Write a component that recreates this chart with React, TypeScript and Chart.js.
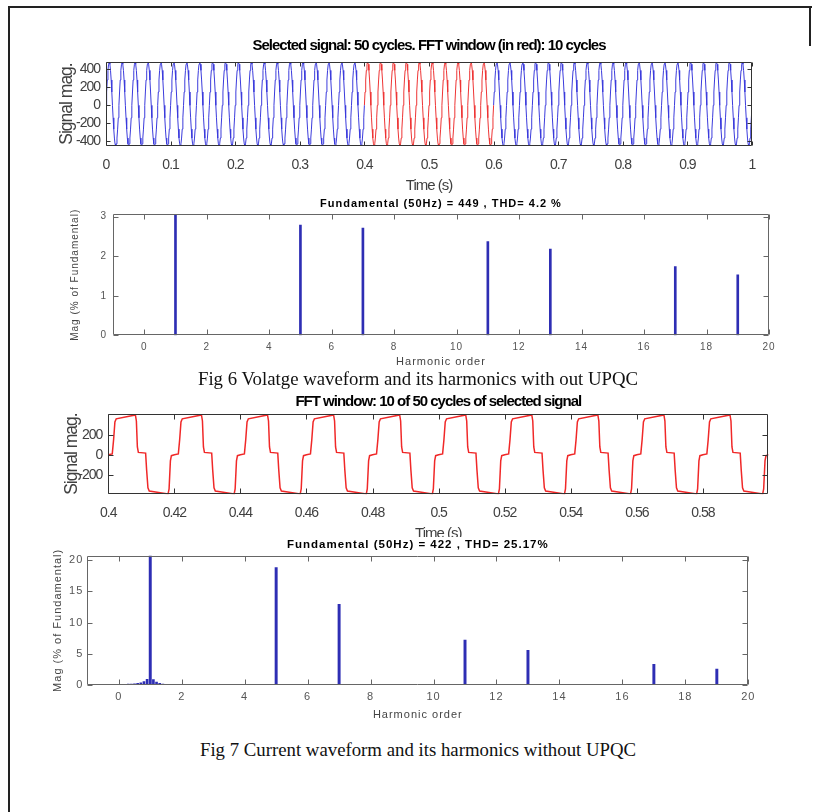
import React, { useEffect, useRef } from "react";
import { Chart, registerables } from "chart.js";
Chart.register(...registerables);

// ---------------- Fig 6 : voltage (50 cycles, FFT window 0.4 – 0.6 s) ----------------
const voltageFundamentalHz = 50;
const voltageSignalCycles = 50;
const voltageCycleSamples = [0, 148, 281, 387, 455, 478, 455, 387, 281, 148, 0, -138, -263, -362, -426, -448, -426, -362, -263, -138];
const fftWindowStart = 0.4;
const fftWindowEnd = 0.6;
const voltageTimeTicks = [0, 0.1, 0.2, 0.3, 0.4, 0.5, 0.6, 0.7, 0.8, 0.9, 1];
const voltageMagTicks = [-400, -200, 0, 200, 400];

const voltageHarmonicOrders = [1, 5, 7, 11, 13, 17, 19];
const voltageHarmonicMags = [100, 2.79, 2.71, 2.37, 2.18, 1.74, 1.53];
const voltageHarmonicTicks = [0, 1, 2, 3];
const harmonicOrderTicks = [0, 2, 4, 6, 8, 10, 12, 14, 16, 18, 20];

// ---------------- Fig 7 : current (10-cycle FFT window) ----------------
const currentWindowCycles = 10;
const currentCyclePhases = [0, 0.06, 0.08, 0.1, 0.12, 0.41, 0.425, 0.44, 0.455, 0.565, 0.58, 0.6, 0.62, 0.905, 0.92, 0.94, 0.955];
const currentCycleValues = [2, 10, 150, 330, 362, 400, 340, 80, 25, 18, -150, -330, -362, -392, -340, -60, -8];
const currentTimeTicks = [0.4, 0.42, 0.44, 0.46, 0.48, 0.5, 0.52, 0.54, 0.56, 0.58];
const currentMagTicks = [-200, 0, 200];

const currentHarmonicOrders = [1, 5, 7, 11, 13, 17, 19];
const currentHarmonicMags = [100, 18.8, 12.9, 7.2, 5.55, 3.3, 2.56];
const currentLeakageOrders = [0, 0.1, 0.2, 0.3, 0.4, 0.5, 0.6, 0.7, 0.8, 0.9, 1.1, 1.2, 1.3, 1.4, 1.5, 1.6];
const currentLeakageMags = [0.1, 0.1, 0.12, 0.13, 0.15, 0.18, 0.25, 0.35, 0.55, 0.9, 0.85, 0.45, 0.25, 0.15, 0.1, 0.06];
const currentHarmonicTicks = [0, 5, 10, 15, 20];

// ---------------- helpers ----------------
const SANS = '"Liberation Sans", Arial, Helvetica, sans-serif';
const W = 817;

type Frame = {
  ch: number; L: number; R: number; T: number; B: number;
  titleY: number; titleSize: number;
  xTickPad: number; xLabelY: number; xLabelSize: number;
  yLabelX: number; yLabelSize: number; yTickPad: number;
};

function fmt(v: any) {
  return String(+Number(v).toFixed(4));
}

function axesPlugin(color: string, tickLen: number, spacing?: string) {
  return {
    id: "matlabAxes",
    beforeDraw(chart: any) {
      if (spacing) chart.ctx.letterSpacing = spacing;
    },
    afterDatasetsDraw(chart: any) {
      const { ctx, chartArea: a } = chart;
      const xs = chart.scales.x;
      const ys = chart.scales.y;
      const l = Math.round(a.left) + 0.5;
      const r = Math.round(a.right) - 0.5;
      const t = Math.round(a.top) + 0.5;
      const b = Math.round(a.bottom) - 0.5;
      ctx.save();
      ctx.strokeStyle = color;
      ctx.lineWidth = 1;
      ctx.beginPath();
      ctx.rect(l, t, r - l, b - t);
      for (const tk of xs.ticks) {
        const p = Math.round(xs.getPixelForValue(tk.value)) + 0.5;
        ctx.moveTo(p, b); ctx.lineTo(p, b - tickLen);
        ctx.moveTo(p, t); ctx.lineTo(p, t + tickLen);
      }
      for (const tk of ys.ticks) {
        const p = Math.round(ys.getPixelForValue(tk.value)) + 0.5;
        ctx.moveTo(l, p); ctx.lineTo(l + tickLen, p);
        ctx.moveTo(r, p); ctx.lineTo(r - tickLen, p);
      }
      ctx.stroke();
      ctx.restore();
    },
  };
}

function buildOptions(
  f: Frame,
  title: string,
  titleFont: any,
  xr: [number, number], yr: [number, number],
  xTicks: number[], yTicks: number[],
  xLabel: string, yLabel: string,
  tickFont: any, tickColor: string,
  xLabelFont: any, yLabelFont: any, labelColor: string
) {
  const yAxisLeft = f.yLabelX - 0.6 * f.yLabelSize;
  const xH = f.xLabelY - f.B + 0.6 * f.xLabelSize;
  return {
    responsive: false,
    animation: false,
    layout: {
      padding: {
        top: f.titleY - 0.6 * f.titleSize,
        left: yAxisLeft,
        right: W - f.R,
        bottom: f.ch - f.B - xH,
      },
    },
    plugins: {
      legend: { display: false },
      tooltip: { enabled: false },
      title: {
        display: true,
        text: title,
        fullSize: false,
        color: "#000",
        font: titleFont,
        padding: { top: 0, bottom: f.T - f.titleY - 0.6 * f.titleSize },
      },
    },
    scales: {
      x: {
        type: "linear",
        min: xr[0], max: xr[1],
        offset: false,
        grid: { display: false, drawTicks: false },
        border: { display: false },
        afterBuildTicks: (s: any) => { s.ticks = xTicks.map((v) => ({ value: v })); },
        afterFit: (s: any) => { s.height = xH; },
        ticks: { callback: fmt, font: tickFont, color: tickColor, padding: f.xTickPad, maxRotation: 0, autoSkip: false },
        title: { display: true, text: xLabel, font: xLabelFont, color: labelColor, padding: 0 },
      },
      y: {
        type: "linear",
        min: yr[0], max: yr[1],
        grid: { display: false, drawTicks: false },
        border: { display: false },
        afterBuildTicks: (s: any) => { s.ticks = yTicks.map((v) => ({ value: v })); },
        afterFit: (s: any) => { s.width = f.L - yAxisLeft; },
        ticks: { callback: fmt, font: tickFont, color: tickColor, padding: f.yTickPad, autoSkip: false },
        title: { display: true, text: yLabel, font: yLabelFont, color: labelColor, padding: 0 },
      },
    },
  } as any;
}

// ---------------- data construction ----------------
function voltagePoints() {
  const period = 1 / voltageFundamentalHz;
  const n = voltageCycleSamples.length;
  const pts: { x: number; y: number }[] = [];
  for (let c = 0; c < voltageSignalCycles; c++) {
    for (let k = 0; k < n; k++) pts.push({ x: (c + k / n) * period, y: voltageCycleSamples[k] });
  }
  pts.push({ x: voltageSignalCycles * period, y: voltageCycleSamples[0] });
  return pts;
}

function currentPoints() {
  const period = 1 / voltageFundamentalHz;
  const pts: { x: number; y: number }[] = [];
  for (let c = 0; c < currentWindowCycles; c++) {
    currentCyclePhases.forEach((ph, i) => {
      pts.push({ x: fftWindowStart + (c + ph) * period, y: currentCycleValues[i] });
    });
  }
  pts.push({ x: fftWindowStart + currentWindowCycles * period, y: currentCycleValues[0] });
  return pts;
}

// ---------------- chart configs ----------------
const frame1: Frame = { ch: 172, L: 106, R: 752, T: 34, B: 118, titleY: 18, titleSize: 15, xTickPad: 10.3, xLabelY: 158, xLabelSize: 15, yLabelX: 66.7, yLabelSize: 17.5, yTickPad: 6 };
const frame2: Frame = { ch: 175, L: 113, R: 769, T: 19.3, B: 140.3, titleY: 9.3, titleSize: 11, xTickPad: 6.2, xLabelY: 166.5, xLabelSize: 11, yLabelX: 75, yLabelSize: 10, yTickPad: 6 };
const frame3: Frame = { ch: 160, L: 108.3, R: 768.3, T: 29, B: 109.3, titleY: 16.7, titleSize: 15, xTickPad: 10.7, xLabelY: 149, xLabelSize: 15, yLabelX: 71.7, yLabelSize: 17.5, yTickPad: 6 };
const frame4: Frame = { ch: 188, L: 87.3, R: 748.3, T: 18.7, B: 148, titleY: 8, titleSize: 11.5, xTickPad: 5.7, xLabelY: 178, xLabelSize: 11, yLabelX: 58.3, yLabelSize: 11, yTickPad: 4 };

function config1() {
  const pts = voltagePoints();
  const eps = 1e-9;
  const blueA = pts.filter((p) => p.x <= fftWindowStart + eps);
  const red = pts.filter((p) => p.x >= fftWindowStart - eps && p.x <= fftWindowEnd + eps);
  const blueB = pts.filter((p) => p.x >= fftWindowEnd - eps);
  const line = { pointRadius: 0, borderWidth: 1, tension: 0, fill: false };
  return {
    type: "line",
    data: {
      datasets: [
        { ...line, data: blueA, borderColor: "#3b3bdc" },
        { ...line, data: red, borderColor: "#ee3434" },
        { ...line, data: blueB, borderColor: "#3b3bdc" },
      ],
    },
    options: buildOptions(
      frame1, "Selected signal: 50 cycles. FFT window (in red): 10 cycles",
      { family: SANS, size: 15, weight: "bold" },
      [0, 1], [-450, 480], voltageTimeTicks, voltageMagTicks,
      "Time (s)", "Signal mag.",
      { family: SANS, size: 14 }, "#404040",
      { family: SANS, size: 15 }, { family: SANS, size: 17.5 }, "#404040"
    ),
    plugins: [axesPlugin("#333", 4, "-1px")],
  } as any;
}

function config2() {
  return {
    type: "bar",
    data: {
      datasets: [
        {
          data: voltageHarmonicOrders.map((o, i) => ({ x: o, y: voltageHarmonicMags[i] })),
          backgroundColor: "#2e2eb4",
          barThickness: 2,
          grouped: false,
        },
      ],
    },
    options: buildOptions(
      frame2, "Fundamental (50Hz) = 449 , THD= 4.2 %",
      { family: SANS, size: 11, weight: "bold" },
      [-1, 20], [0, 3.06], harmonicOrderTicks, voltageHarmonicTicks,
      "Harmonic order", "Mag (% of Fundamental)",
      { family: SANS, size: 10 }, "#555",
      { family: SANS, size: 11 }, { family: SANS, size: 10 }, "#444"
    ),
    plugins: [axesPlugin("#666", 5, "1px")],
  } as any;
}

function config3() {
  return {
    type: "line",
    data: {
      datasets: [
        { data: currentPoints(), borderColor: "#f02828", borderWidth: 1.5, pointRadius: 0, tension: 0, fill: false },
      ],
    },
    options: buildOptions(
      frame3, "FFT window: 10 of 50 cycles of selected signal",
      { family: SANS, size: 15, weight: "bold" },
      [0.4, 0.5998], [-395, 410], currentTimeTicks, currentMagTicks,
      "Time (s)", "Signal mag.",
      { family: SANS, size: 14 }, "#404040",
      { family: SANS, size: 15 }, { family: SANS, size: 17.5 }, "#404040"
    ),
    plugins: [axesPlugin("#333", 5, "-1px")],
  } as any;
}

function config4() {
  return {
    type: "bar",
    data: {
      datasets: [
        {
          data: currentHarmonicOrders.map((o, i) => ({ x: o, y: currentHarmonicMags[i] })),
          backgroundColor: "#2e2eb4",
          barThickness: 2.3,
          grouped: false,
        },
        {
          data: currentLeakageOrders.map((o, i) => ({ x: o, y: currentLeakageMags[i] })),
          backgroundColor: "#2e2eb4",
          barThickness: 2,
          grouped: false,
        },
      ],
    },
    options: buildOptions(
      frame4, "Fundamental (50Hz) = 422 , THD= 25.17%",
      { family: SANS, size: 11.5, weight: "bold" },
      [-1, 20], [0, 20.7], harmonicOrderTicks, currentHarmonicTicks,
      "Harmonic order", "Mag (% of Fundamental)",
      { family: SANS, size: 11 }, "#555",
      { family: SANS, size: 11 }, { family: SANS, size: 11 }, "#444"
    ),
    plugins: [axesPlugin("#666", 5, "1px")],
  } as any;
}

function ChartBox({ top, height, build, bg }: { top: number; height: number; build: () => any; bg?: string }) {
  const ref = useRef<HTMLCanvasElement>(null);
  useEffect(() => {
    const chart = new Chart(ref.current as HTMLCanvasElement, build());
    return () => chart.destroy();
  }, []);
  return (
    <div style={{ position: "absolute", left: 0, top, width: W, height, background: bg || "transparent" }}>
      <canvas ref={ref} width={W} height={height} style={{ display: "block" }} />
    </div>
  );
}

const captionStyle: React.CSSProperties = {
  position: "absolute",
  left: 0,
  width: 836,
  textAlign: "center",
  fontFamily: '"Liberation Serif", "Times New Roman", serif',
  fontSize: 18.8,
  lineHeight: "22px",
  color: "#111",
  whiteSpace: "nowrap",
};

export default function App() {
  return (
    <div style={{ position: "absolute", left: 0, top: 0, width: W, height: 812, background: "#fff", overflow: "hidden" }}>
      <ChartBox top={28} height={frame1.ch} build={config1} />
      <ChartBox top={195} height={frame2.ch} build={config2} />
      <ChartBox top={385} height={frame3.ch} build={config3} />
      <ChartBox top={537} height={frame4.ch} build={config4} bg="#fff" />
      <div style={{ ...captionStyle, top: 368 }}>Fig 6 Volatge waveform and its harmonics with out UPQC</div>
      <div style={{ ...captionStyle, top: 739 }}>Fig 7 Current waveform and its harmonics without UPQC</div>
      <div style={{ position: "absolute", left: 8, top: 6, width: 802, height: 830, borderLeft: "2px solid #222", borderTop: "2px solid #222", pointerEvents: "none" }} />
      <div style={{ position: "absolute", left: 809, top: 6, width: 2, height: 40, background: "#222" }} />
    </div>
  );
}
